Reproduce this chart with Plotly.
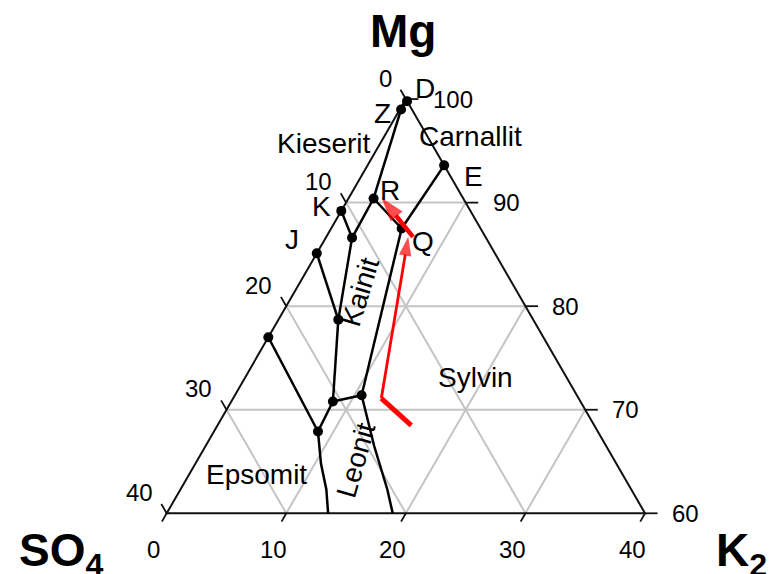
import numpy as np
import plotly.graph_objects as go

# ── 1. Data: compositions in % (Mg, K2); SO4 = 100 - Mg - K2 ────────────────
# invariant points (black dots)
dot_mg = [99.8, 99.0, 93.6, 89.2, 90.4, 87.5, 85.1, 86.6, 78.7, 77.0, 70.8, 67.9, 71.4]
dot_k2 = [0.2, 0.1, 6.4, 0.0, 2.1, 5.9, 0.0, 2.2, 5.0, 0.0, 8.5, 8.7, 10.6]

# phase boundaries, one list per curve
bound_mg = [
    [99.8, 99.0],               # D - Z
    [99.0, 90.4],               # Z - R
    [89.2, 86.6],               # K - P1
    [86.6, 90.4],               # P1 - R
    [90.4, 87.5],               # R - Q
    [93.6, 87.5],               # E - Q
    [85.1, 78.7],               # J - P2
    [86.6, 78.7],               # P1 - P2
    [78.7, 70.8],               # P2 - P3
    [77.0, 67.9],               # L - P4
    [67.9, 70.8],               # P4 - P3
    [70.8, 71.4],               # P3 - P5
    [87.5, 71.4],               # Q - P5
    [67.9, 64.8, 62.3, 60.0],   # Epsomit / Leonit
    [71.4, 66.5, 62.3, 60.0],   # Leonit / Sylvin
]
bound_k2 = [
    [0.2, 0.1],
    [0.1, 2.1],
    [0.0, 2.2],
    [2.2, 2.1],
    [2.1, 5.9],
    [6.4, 5.9],
    [0.0, 5.0],
    [2.2, 5.0],
    [5.0, 8.5],
    [0.0, 8.7],
    [8.7, 8.5],
    [8.5, 10.6],
    [5.9, 10.6],
    [8.7, 10.5, 12.2, 13.5],
    [10.6, 14.1, 17.3, 18.9],
]

# red crystallisation path (three pieces)
path_mg = [[68.5, 71.1], [71.1, 86.7], [86.7, 90.45]]
path_k2 = [[16.2, 12.4], [12.4, 6.85], [7.25, 2.75]]

# axes
so4_ticks = [0, 10, 20, 30, 40]
k2_ticks = [0, 10, 20, 30, 40]
mg_ticks = [100, 90, 80, 70, 60]
grid_vals = [10, 20, 30]

# text labels: (text, Mg, K2, angle)
labels = [
    ("Kieserit", 95.7, -4.7, 0), ("Carnallit", 96.4, 7.2, 0),
    ("Sylvin", 73.1, 19.25, 0), ("Epsomit", 63.7, 5.7, 0),
    ("Kainit", 81.4, 5.5, -73), ("Leonit", 65.15, 13.3, -74),
    ("D", 101.0, 1.1, 0), ("Z", 98.6, -1.25, 0), ("E", 92.5, 9.4, 0),
    ("K", 89.6, -1.85, 0), ("R", 91.2, 3.05, 0), ("Q", 86.2, 8.35, 0),
    ("J", 86.4, -2.75, 0),
]

SQ3 = np.sqrt(3) / 2
FONT = "Arial, Liberation Sans, sans-serif"


def xy(mg, k2):
    mg = np.asarray(mg, dtype=float)
    k2 = np.asarray(k2, dtype=float)
    return k2 + (mg - 60) / 2, (mg - 60) * SQ3


def segs(pairs):
    """pairs of ((mg, k2), (mg, k2)) -> x, y arrays with gaps"""
    xs, ys = [], []
    for (m0, k0), (m1, k1) in pairs:
        x, y = xy([m0, m1], [k0, k1])
        xs += list(x) + [None]
        ys += list(y) + [None]
    return xs, ys


fig = go.Figure()

# ── 2. Grid ─────────────────────────────────────────────────────────────────
grid = []
for v in grid_vals:
    grid.append(((100 - v, 0), (60, 40 - v)))       # SO4 = v
    grid.append(((60, v), (100 - v, v)))            # K2 = v
    grid.append(((60 + v, 0), (60 + v, 40 - v)))    # Mg = 60 + v
gx, gy = segs(grid)
fig.add_trace(go.Scatter(x=gx, y=gy, mode="lines",
                         line=dict(color="#c4c4c4", width=2), hoverinfo="skip"))

# ── 3. Frame + ticks ────────────────────────────────────────────────────────
fx, fy = xy([100, 60, 60, 100], [0, 0, 40, 0])
fig.add_trace(go.Scatter(x=fx, y=fy, mode="lines",
                         line=dict(color="#111", width=2), hoverinfo="skip"))

tx, ty = [], []
for s in so4_ticks:
    x, y = xy(100 - s, 0)
    tx += [x, x - 0.9 * 0.5, None]
    ty += [y, y + 0.9 * SQ3, None]
for k in k2_ticks:
    x, y = xy(60, k)
    tx += [x, x - 0.8 * 0.5, None]
    ty += [y, y - 0.8 * SQ3, None]
for m in mg_ticks:
    x, y = xy(m, 100 - m)
    tx += [x, x + 1.05, None]
    ty += [y, y, None]
fig.add_trace(go.Scatter(x=tx, y=ty, mode="lines",
                         line=dict(color="#111", width=1.8), hoverinfo="skip"))

# ── 4. Phase boundaries + points ────────────────────────────────────────────
for mg, k2 in zip(bound_mg, bound_k2):
    x, y = xy(mg, k2)
    fig.add_trace(go.Scatter(x=x, y=y, mode="lines",
                             line=dict(color="black", width=2.5), hoverinfo="skip"))

x, y = xy(dot_mg, dot_k2)
fig.add_trace(go.Scatter(x=x, y=y, mode="markers",
                         marker=dict(color="black", size=10), hoverinfo="skip"))

# ── 5. Red path ─────────────────────────────────────────────────────────────
widths = [5, 2.8, 4.5]
heads = [0, 20, 25]
for mg, k2, w, h in zip(path_mg, path_k2, widths, heads):
    x, y = xy(mg, k2)
    fig.add_trace(go.Scatter(
        x=x, y=y, mode="lines+markers",
        line=dict(color="#ff0000", width=w),
        marker=dict(symbol="arrow", size=[0, h], angleref="previous",
                    color="#ff0000", line=dict(width=0)),
        hoverinfo="skip"))

# ── 6. Labels ───────────────────────────────────────────────────────────────
for txt, mg, k2, ang in labels:
    x, y = xy(mg, k2)
    fig.add_annotation(x=float(x), y=float(y), text=txt, showarrow=False,
                       textangle=ang, font=dict(size=28, color="black", family=FONT))

for s in so4_ticks:
    x, y = xy(100 - s, 0)
    fig.add_annotation(x=float(x), y=float(y), text=str(s), showarrow=False,
                       xanchor="right", yanchor="middle", xshift=-12, yshift=21,
                       font=dict(size=24, color="black", family=FONT))
for k in k2_ticks:
    x, y = xy(60, k)
    fig.add_annotation(x=float(x), y=float(y), text=str(k), showarrow=False,
                       xanchor="center", yanchor="middle", xshift=-13, yshift=-36,
                       font=dict(size=24, color="black", family=FONT))
for m in mg_ticks:
    x, y = xy(m, 100 - m)
    fig.add_annotation(x=float(x), y=float(y), text=str(m), showarrow=False,
                       xanchor="left", yanchor="middle", xshift=25,
                       font=dict(size=24, color="black", family=FONT))

# corner names
cx, cy = xy([100, 60, 60], [0, 0, 40])
fig.add_annotation(x=float(cx[0]), y=float(cy[0]), text="<b>Mg</b>", showarrow=False,
                   yshift=68, xshift=-3, font=dict(size=46, color="black", family=FONT))
fig.add_annotation(x=float(cx[1]), y=float(cy[1]), text="<b>SO<sub>4</sub></b>",
                   showarrow=False, xshift=-106, yshift=-40,
                   font=dict(size=46, color="black", family=FONT))
fig.add_annotation(x=float(cx[2]), y=float(cy[2]), text="<b>K<sub>2</sub></b>",
                   showarrow=False, xshift=96, yshift=-40,
                   font=dict(size=46, color="black", family=FONT))

# ── 7. Layout ───────────────────────────────────────────────────────────────
PX = 11.958          # pixels per % unit
X0, Y0 = 166.7, 513.3
fig.update_layout(
    width=773, height=574,
    margin=dict(l=0, r=0, t=0, b=0),
    paper_bgcolor="white", plot_bgcolor="white",
    showlegend=False,
    xaxis=dict(range=[-X0 / PX, (773 - X0) / PX], visible=False, fixedrange=True),
    yaxis=dict(range=[-(574 - Y0) / PX, Y0 / PX], visible=False, fixedrange=True),
)

# page body has a default 8px margin; drop it so the figure sits at 0,0
fig.write_html("out.html", config={"displayModeBar": False},
               post_script="document.body.style.margin='0';")
